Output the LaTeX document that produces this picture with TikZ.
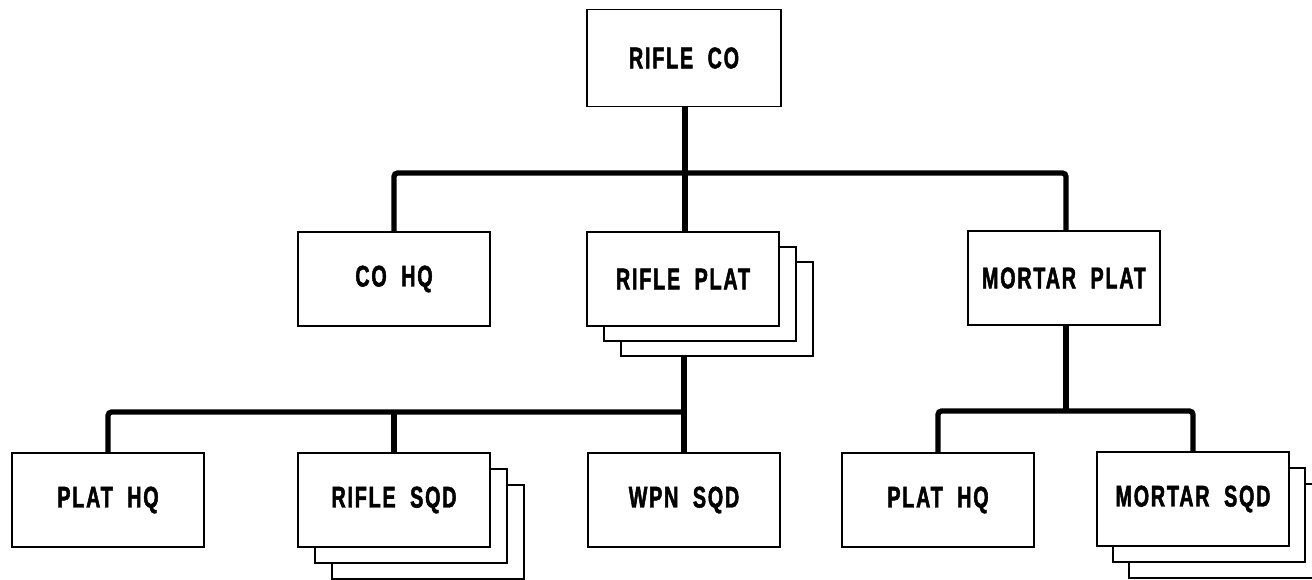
\documentclass[tikz,border=0pt]{standalone}
\usepackage{fontspec}
\newfontfamily\orgfont[FakeStretch=0.66,LetterSpace=6,FakeBold=1.6,WordSpace=2]{Liberation Sans}
\begin{document}
\begin{tikzpicture}[x=0.02cm,y=-0.02cm,
  unit/.style={draw,line width=1.1pt,fill=white,minimum width=3.84cm,minimum height=1.88cm,inner sep=0pt,
    font=\orgfont\bfseries\fontsize{17}{19}\selectfont},
  feed/.style={line width=3pt,rounded corners=2pt}]
  \useasboundingbox (0,0) rectangle (1312,579);
  % top
  \node[unit,minimum width=3.88cm,minimum height=1.94cm] (co) at (684,58) {RIFLE CO};
  % platoons
  \node[unit] (cohq) at (394,279) {CO HQ};
  \foreach \k in {2,1} \node[unit] (rp\k) at (683+\k*17,279+\k*15) {};
  \node[unit] (rp) at (683,279) {RIFLE PLAT};
  \node[unit] (mp) at (1064,278) {MORTAR PLAT};
  % squads
  \node[unit] (phqa) at (108,500) {PLAT HQ};
  \foreach \k in {2,1} \node[unit] (rs\k) at (394+\k*17,500+\k*16) {};
  \node[unit] (rs) at (394,500) {RIFLE SQD};
  \node[unit] (ws) at (684,500) {WPN SQD};
  \node[unit] (phqb) at (938,500) {PLAT HQ};
  \foreach \k in {2,1} \node[unit] (ms\k) at (1193+\k*16,499+\k*16) {};
  \node[unit] (ms) at (1193,499) {MORTAR SQD};
  % connectors
  \coordinate (tbus) at (685,173);
  \coordinate (lbus) at (684,412);
  \coordinate (rbus) at (1066,411);
  \draw[feed] (co.south -| tbus) -- (rp.north -| tbus);
  \draw[feed] (cohq.north) |- (tbus) -| (mp.north -| rbus);
  \draw[feed] (rp2.south -| lbus) -- (ws.north -| lbus);
  \draw[feed] (phqa.north) |- (lbus);
  \draw[feed] (rs.north) -- (rs.north |- lbus);
  \draw[feed] (mp.south -| rbus) -- (rbus);
  \draw[feed] (phqb.north) |- (rbus) -| (ms.north);
\end{tikzpicture}
\end{document}
